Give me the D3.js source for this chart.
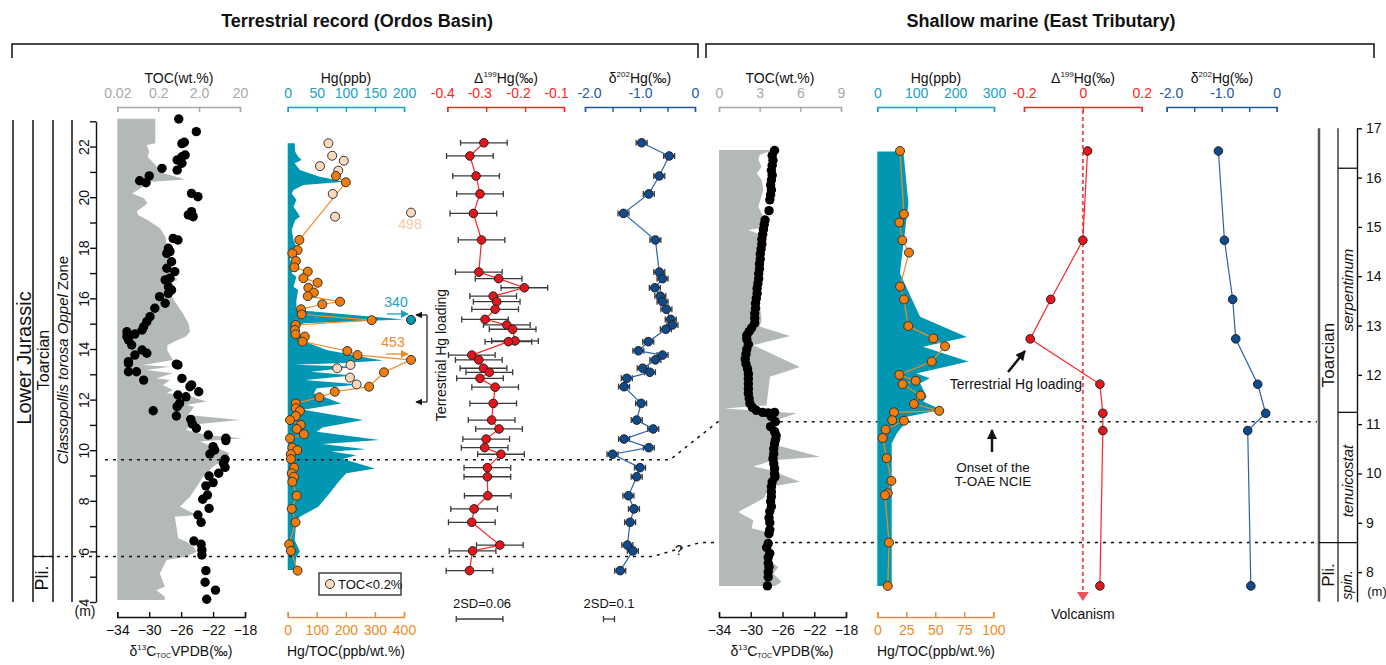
<!DOCTYPE html>
<html>
<head>
<meta charset="utf-8">
<script src="https://cdn.jsdelivr.net/npm/d3@7"></script>
<style>
  body { margin: 0; background: #fff; }
</style>
</head>
<body>
<svg width="1386" height="665" viewBox="0 0 1386 665"></svg>
<script>
// ---------- data: [depth (m), value] ----------
// Terrestrial (Ordos Basin)
const tocTerr = [[23.1,0.17],[22.13,0.17],[22.06,0.105],[21.8,0.12],[21.6,0.11],[21.2,0.19],[21.0,0.22],[20.7,0.9],[20.6,0.12],[20.4,0.085],[20.15,0.046],[19.96,0.09],[19.76,0.11],[19.43,0.06],[19.3,0.065],[19.1,0.11],[18.77,0.22],[18.44,0.3],[18.04,0.33],[17.52,0.36],[16.9,0.45],[16.73,0.6],[16.66,0.45],[16.2,0.39],[15.8,0.55],[15.41,0.8],[15.02,1.1],[14.68,1.2],[14.49,0.95],[14.36,0.6],[14.16,0.34],[13.96,0.33],[13.57,0.46],[13.37,0.086],[13.3,0.39],[13.17,0.1],[13.04,0.46],[12.84,0.18],[12.77,0.39],[12.58,0.26],[12.38,0.46],[12.25,0.32],[12.18,0.98],[11.92,3.0],[11.79,0.98],[11.72,1.5],[11.39,1.08],[11.19,19.6],[11.0,1.18],[10.8,0.98],[10.6,3.0],[10.47,21.6],[10.34,2.1],[9.88,11.2],[9.61,7.7],[9.35,4.4],[8.95,2.5],[8.56,1.74],[8.16,1.2],[7.77,0.68],[7.44,1.74],[7.37,0.51],[6.52,0.62],[6.38,0.98],[6.19,1.42],[5.99,1.74],[5.79,0.98],[5.66,0.32],[5.13,0.22],[4.6,0.29],[4.47,0.18],[4.21,0.29],[4.08,0.29]];

const d13cTerr = [[23.09,-26.3],[22.59,-24.1],[22.17,-25.6],[22.12,-25.9],[21.67,-25.5],[21.6,-25.9],[21.47,-26.5],[21.34,-25.9],[21.07,-26.5],[21.14,-28.4],[20.84,-30.0],[20.65,-31.2],[20.57,-30.4],[20.15,-24.7],[20.02,-23.9],[19.43,-24.7],[19.3,-25.1],[19.23,-24.5],[18.37,-27.0],[18.31,-26.4],[17.98,-27.6],[17.85,-27.4],[17.78,-27.8],[17.45,-27.2],[17.19,-27.8],[17.06,-26.8],[16.8,-27.4],[16.73,-28.0],[16.46,-27.6],[16.33,-27.2],[16.2,-27.6],[16.07,-28.7],[15.81,-28.0],[15.61,-29.3],[15.28,-29.9],[15.08,-30.3],[14.88,-30.7],[14.75,-30.9],[14.59,-31.8],[14.68,-32.8],[14.49,-32.8],[14.36,-32.6],[14.16,-32.2],[13.96,-30.9],[13.83,-30.3],[13.76,-31.8],[13.5,-32.6],[13.43,-32.6],[13.4,-26.6],[13.37,-26.4],[13.1,-32.6],[13.1,-31.6],[12.77,-30.7],[12.84,-25.9],[12.58,-24.7],[12.51,-24.9],[12.31,-23.8],[12.18,-26.4],[12.11,-25.4],[11.85,-26.2],[11.72,-26.5],[11.56,-29.5],[11.35,-26.6],[11.22,-24.8],[11.04,-24.6],[10.87,-24.1],[10.6,-22.6],[10.47,-20.4],[10.38,-20.4],[10.14,-22.0],[10.01,-21.8],[9.85,-22.4],[9.64,-20.5],[9.48,-20.7],[9.32,-20.5],[9.09,-21.3],[8.98,-22.5],[8.72,-22.0],[8.59,-22.9],[8.23,-22.7],[8.06,-23.3],[7.7,-22.5],[7.44,-23.9],[7.15,-23.5],[6.41,-24.4],[6.28,-23.5],[6.06,-23.4],[5.86,-23.4],[5.24,-22.9],[4.78,-23.0],[4.47,-21.7],[4.11,-22.8]];

const hgTerr = [[22.13,12],[21.8,13],[21.6,18],[21.47,24],[21.34,12],[21.08,21],[20.81,55],[20.61,98],[20.48,27],[20.28,10],[20.15,7],[19.89,15],[19.62,10],[19.36,18],[19.23,21],[19.1,13],[18.7,7],[18.31,10],[18.04,15],[17.91,7],[17.52,4],[17.25,10],[16.99,7],[16.86,15],[16.46,10],[16.33,18],[15.94,15],[15.54,15],[15.17,340],[15.02,27],[14.75,15],[14.49,21],[14.22,38],[13.96,67],[13.63,141],[13.55,164],[13.45,95],[13.38,12],[13.3,118],[13.1,40],[12.95,112],[12.77,30],[12.6,124],[12.45,50],[12.25,45],[11.85,92],[11.6,27],[11.19,130],[10.9,60],[10.73,50],[10.4,158],[10.25,60],[10.04,135],[9.95,75],[9.8,118],[9.65,95],[9.28,150],[9.09,101],[8.82,90],[8.3,72],[7.77,53],[7.37,21],[7.24,15],[6.45,12],[5.99,21],[5.79,15],[5.26,12]];

const hgTocTerr = [[20.84,166],[20.59,200],[18.31,40],[17.91,34],[17.78,16],[17.48,28],[17.23,23],[17.06,69],[16.8,54],[16.62,103],[16.42,71],[16.23,90],[16.09,69],[15.87,180],[15.77,119],[15.57,46],[15.37,48],[15.14,289],[14.95,27],[14.75,25],[14.58,27],[14.49,59],[14.29,51],[13.92,205],[13.76,240],[13.57,453],[13.08,331],[12.51,280],[12.31,162],[12.09,109],[11.85,28],[11.66,28],[11.55,42],[11.35,28],[11.19,8],[11.0,45],[10.84,31],[10.63,56],[10.47,8],[10.1,16],[10.0,33],[9.84,11],[9.65,11],[9.31,22],[9.09,14],[8.95,22],[8.75,16],[8.2,31],[7.68,14],[7.15,27],[6.28,5],[6.02,11],[5.24,34]];

const hgTocLowToc = [[22.13,140],[21.64,153],[21.44,193],[21.23,111],[21.05,174],[20.13,155],[19.39,498],[19.23,163],[13.37,216],[13.24,170],[12.87,214],[12.6,237]];

const hgPeakTerr = [[15.15,340]];

const d199Terr = [[22.15,-0.306],[21.63,-0.342],[20.84,-0.326],[20.13,-0.316],[19.36,-0.333],[18.31,-0.312],[17.04,-0.319],[16.78,-0.268],[16.42,-0.202],[16.09,-0.282],[15.87,-0.273],[15.57,-0.277],[15.17,-0.303],[14.95,-0.247],[14.78,-0.232],[14.32,-0.226],[14.29,-0.243],[13.76,-0.337],[13.57,-0.319],[13.24,-0.307],[13.08,-0.292],[12.84,-0.316],[12.49,-0.277],[11.85,-0.282],[11.19,-0.286],[10.84,-0.267],[10.44,-0.300],[10.1,-0.304],[9.84,-0.262],[9.31,-0.297],[8.95,-0.297],[8.2,-0.296],[7.68,-0.331],[7.15,-0.337],[6.25,-0.265],[6.02,-0.335],[5.24,-0.343]];

const d202Terr = [[22.15,-0.97],[21.63,-0.47],[20.84,-0.65],[20.13,-0.84],[19.36,-1.30],[18.31,-0.72],[17.04,-0.65],[16.78,-0.59],[16.42,-0.73],[16.09,-0.63],[15.87,-0.59],[15.57,-0.52],[15.17,-0.44],[14.95,-0.41],[14.78,-0.53],[14.29,-0.85],[13.93,-1.03],[13.76,-0.59],[13.57,-0.72],[13.24,-0.95],[13.08,-0.82],[12.84,-1.24],[12.51,-1.29],[11.85,-0.98],[11.19,-1.06],[10.84,-0.76],[10.44,-1.29],[10.1,-0.84],[9.84,-1.50],[9.31,-1.0],[8.95,-1.06],[8.2,-1.21],[7.68,-1.11],[7.15,-1.18],[6.25,-1.23],[6.02,-1.13],[5.24,-1.36]];

// Shallow marine (East Tributary)
const tocMar = [[16.56,4.0],[16.46,3.0],[16.36,2.9],[16.22,3.15],[16.09,2.78],[15.95,3.15],[15.75,3.27],[15.41,2.9],[15.0,3.64],[14.94,2.16],[14.8,3.52],[14.33,3.02],[13.65,2.9],[13.11,3.15],[12.98,3.0],[12.79,5.24],[12.6,2.53],[12.16,5.97],[11.96,3.76],[11.69,3.64],[11.38,3.5],[11.32,0.4],[11.27,3.0],[11.22,5.73],[11.05,3.88],[10.68,4.62],[10.61,3.76],[10.34,7.45],[10.27,4.0],[10.14,2.53],[10.07,3.76],[9.83,5.97],[9.73,3.76],[9.5,3.3],[9.22,1.42],[9.05,2.53],[8.89,2.41],[8.78,4.0],[8.51,3.52],[8.24,3.76],[8.1,4.37],[7.97,4.0],[7.8,4.62],[7.72,4.13]];

const d13cMar = [[16.55,-27.0],[16.45,-27.3],[16.35,-27.2],[16.25,-27.3],[16.15,-27.4],[16.05,-27.3],[15.95,-27.4],[15.85,-27.5],[15.75,-27.4],[15.65,-27.5],[15.55,-27.6],[15.33,-27.7],[15.14,-28.2],[15.05,-28.3],[14.95,-28.4],[14.85,-28.5],[14.75,-28.6],[14.65,-28.6],[14.55,-28.7],[14.45,-28.8],[14.35,-28.8],[14.25,-28.9],[14.15,-28.9],[14.05,-29.0],[13.95,-29.0],[13.85,-29.1],[13.75,-29.2],[13.65,-29.2],[13.55,-29.3],[13.45,-29.4],[13.35,-29.4],[13.25,-29.5],[13.15,-29.5],[13.05,-29.5],[12.95,-29.9],[12.88,-30.2],[12.8,-30.5],[12.72,-30.5],[12.62,-30.3],[12.52,-30.5],[12.42,-30.6],[12.32,-30.7],[12.22,-30.6],[12.12,-30.4],[12.02,-30.3],[11.92,-30.3],[11.82,-30.3],[11.72,-30.3],[11.62,-30.3],[11.52,-30.2],[11.42,-30.1],[11.34,-29.8],[11.28,-29.3],[11.24,-28.5],[11.23,-27.8],[11.24,-27.0],[11.15,-27.4],[11.05,-26.9],[10.95,-27.5],[10.85,-27.0],[10.77,-26.8],[10.68,-26.9],[10.6,-27.0],[10.5,-27.1],[10.4,-27.1],[10.3,-27.2],[10.2,-27.1],[10.1,-27.0],[10.0,-27.0],[9.93,-26.95],[9.83,-27.3],[9.73,-27.4],[9.63,-27.4],[9.53,-27.4],[9.43,-27.5],[9.33,-27.4],[9.23,-27.6],[9.1,-27.7],[9.0,-27.6],[8.86,-27.6],[8.78,-27.7],[8.58,-27.8],[8.5,-28.0],[8.38,-27.6],[8.3,-27.8],[8.18,-27.8],[8.1,-27.7],[8.0,-27.8],[7.9,-27.8],[7.72,-27.9]];

const hgMar = [[16.53,67],[15.48,80],[14.06,58],[13.18,110],[12.77,230],[12.57,118],[12.27,234],[12.03,101],[11.93,135],[11.83,110],[11.56,127],[11.46,118],[11.29,165],[11.15,76],[10.98,67],[10.81,50],[10.61,37],[7.72,37]];

const hgTocMar = [[16.54,19.6],[15.26,23],[15.09,19],[14.73,21.6],[14.48,27.3],[13.79,19.6],[13.53,23],[12.99,26.7],[12.74,48.3],[12.58,58.4],[12.27,46.9],[12.0,19],[11.88,33.1],[11.81,21.9],[11.58,37.4],[11.41,31.6],[11.27,53.4],[11.24,14.4],[11.08,12.9],[11.07,23],[10.89,7.2],[10.72,4.6],[10.31,8.1],[9.85,12.1],[9.6,9.0],[9.56,6.6],[8.6,10.1],[7.72,9]];

const d199Mar = [[16.54,0.016],[14.73,0.0],[13.53,-0.109],[12.73,-0.179],[11.81,0.058],[11.22,0.068],[10.87,0.068],[7.72,0.058]];
const d202Mar = [[16.54,-1.06],[14.73,-0.95],[13.53,-0.80],[12.73,-0.745],[11.81,-0.345],[11.22,-0.20],[10.87,-0.527],[7.72,-0.47]];

// tick values / labels
const tocTerrTicks = [0.02, 0.2, 2, 20], tocTerrLabels = ["0.02", "0.2", "2.0", "20"];
const d13cTicks = [-34, -30, -26, -22, -18];
const hgTerrTicks = [0, 50, 100, 150, 200];
const hgTocTerrTicks = [0, 100, 200, 300, 400];
const d199TerrTicks = [-0.4, -0.3, -0.2, -0.1], d199TerrLabels = ["-0.4", "-0.3", "-0.2", "-0.1"];
const d202Ticks = [-2, -1.5, -1, -0.5, 0], d202Labels = ["-2.0", "", "-1.0", "", "0"];
const tocMarTicks = [0, 3, 6, 9];
const hgMarTicks = [0, 100, 200, 300];
const hgTocMarTicks = [0, 25, 50, 75, 100];
const d199MarTicks = [-0.2, 0, 0.2], d199MarLabels = ["-0.2", "0", "0.2"];
const depthTerrTicks = d3.range(4, 24);
const depthMarTicks = d3.range(8, 18);

// ---------- setup ----------
const FONT = "Liberation Sans, Arial, sans-serif";
const svg = d3.select("svg").attr("font-family", FONT);

const C = {
    gray: "#b3b9b9", grayAxis: "#a8a8a8", teal: "#0197b2", tealAxis: "#1ba0c2",
    orange: "#f08a24", orangeDot: "#f07c0c", peach: "#fcd8bc", red: "#ff2424",
    redDot: "#e5161b", blue: "#1c57a0", blueDot: "#0f4a8c"
};

// depth scales
const yT = d3.scaleLinear().domain([4, 23]).range([602, 121.3]);
const yM = d3.scaleLinear().domain([7.4, 17]).range([601.7, 128.3]);

// value scales
const xTocT = d3.scaleLog().domain([0.02, 20]).range([117.3, 240]);
const xD13T = d3.scaleLinear().domain([-34, -18]).range([117.3, 245]);
const xHgT = d3.scaleLinear().domain([0, 200]).range([287.7, 404]).clamp(true);
const xHgTocT = d3.scaleLinear().domain([0, 400]).range([287.7, 404]);
const xD199T = d3.scaleLinear().domain([-0.4, -0.1]).range([447.3, 564]);
const xD202T = d3.scaleLinear().domain([-2, 0]).range([585, 695]);
const xTocM = d3.scaleLinear().domain([0, 9]).range([719, 841]);
const xD13M = d3.scaleLinear().domain([-34, -18]).range([719, 846]);
const xHgM = d3.scaleLinear().domain([0, 300]).range([877.3, 994]);
const xHgTocM = d3.scaleLinear().domain([0, 100]).range([877.3, 993.3]);
const xD199M = d3.scaleLinear().domain([-0.2, 0.2]).range([1024, 1141.7]);
const xD202M = d3.scaleLinear().domain([-2, 0]).range([1166.7, 1276.7]);

// off-scale values sit just past the axis end
const pos = (x, v) => v > x.domain()[1] ? x.range()[1] + 7 : x(v);

// ---------- helpers ----------
function topAxis(x, ticks, labels, color, dx) {
    const g = svg.append("g").attr("transform", "translate(0,107)")
        .call(d3.axisTop(x).tickValues(ticks).tickFormat((d, i) => labels ? labels[i] : d)
            .tickSizeInner(-5).tickSizeOuter(-5).tickPadding(9));
    g.attr("font-family", FONT).attr("font-size", 14);
    g.selectAll("path, line").attr("stroke", color).attr("stroke-width", 1.4);
    g.selectAll("text").attr("fill", color);
    if (dx) g.selectAll("text").attr("dx", (d, i) => dx[i]);
}

function bottomAxis(x, ticks, color) {
    const g = svg.append("g").attr("transform", "translate(0,617)")
        .call(d3.axisBottom(x).tickValues(ticks).tickSizeInner(-5).tickSizeOuter(-5).tickPadding(8));
    g.attr("font-family", FONT).attr("font-size", 14);
    g.selectAll("path, line").attr("stroke", color).attr("stroke-width", 1.4);
    g.selectAll("text").attr("fill", color);
}

function areaFill(data, x, y, base, fill) {
    svg.append("path").datum(data)
        .attr("d", d3.area().y(d => y(d[0])).x0(x(base)).x1(d => x(d[1])))
        .attr("fill", fill);
}

function lineOf(data, x, y, color, w = 1.2) {
    svg.append("path").datum(data)
        .attr("d", d3.line().x(d => pos(x, d[1])).y(d => y(d[0])))
        .attr("fill", "none").attr("stroke", color).attr("stroke-width", w);
}

function dotsOf(data, x, y, r, fill, stroke) {
    svg.append("g").selectAll("circle").data(data).join("circle")
        .attr("cx", d => pos(x, d[1])).attr("cy", d => y(d[0])).attr("r", r)
        .attr("fill", fill).attr("stroke", stroke || "none").attr("stroke-width", 1);
}

function errBars(data, x, y, e, color) {
    const g = svg.append("g").attr("stroke", color).attr("stroke-width", 1.3);
    data.forEach(d => {
        const x1 = x(d[1] - e), x2 = x(d[1] + e), yy = y(d[0]);
        g.append("line").attr("x1", x1).attr("x2", x2).attr("y1", yy).attr("y2", yy);
        g.append("line").attr("x1", x1).attr("x2", x1).attr("y1", yy - 3).attr("y2", yy + 3);
        g.append("line").attr("x1", x2).attr("x2", x2).attr("y1", yy - 3).attr("y2", yy + 3);
    });
}

function label(x, y, txt, opts = {}) {
    return svg.append("text").attr("x", x).attr("y", y).text(txt)
        .attr("text-anchor", opts.anchor || "middle")
        .attr("font-size", opts.size || 14)
        .attr("fill", opts.fill || "#111")
        .attr("font-weight", opts.weight || null)
        .attr("font-style", opts.style || null);
}

function vlabel(x, y, size) {
    return svg.append("text").attr("transform", `translate(${x},${y}) rotate(-90)`)
        .attr("text-anchor", "middle").attr("dy", "0.35em").attr("font-size", size).attr("fill", "#111");
}

function isoTitle(x, y, pre, sup, post) {
    const t = svg.append("text").attr("x", x).attr("y", y).attr("text-anchor", "middle").attr("font-size", 14).attr("fill", "#111");
    t.append("tspan").text(pre);
    t.append("tspan").text(sup).attr("font-size", 8).attr("dy", -6);
    t.append("tspan").text(post).attr("dy", 6);
}

function d13cTitle(x) {
    const t = svg.append("text").attr("x", x).attr("y", 656).attr("text-anchor", "middle").attr("font-size", 14).attr("fill", "#111");
    t.append("tspan").text("δ");
    t.append("tspan").text("13").attr("font-size", 8).attr("dy", -6);
    t.append("tspan").text("C").attr("dy", 6);
    t.append("tspan").text("TOC").attr("font-size", 7).attr("dy", 2);
    t.append("tspan").text("VPDB(‰)").attr("dy", -2);
}

// ---------- headers ----------
const HEAD = "Liberation Sans Narrow, Liberation Sans, Arial, sans-serif";
label(357, 27, "Terrestrial record (Ordos Basin)", { size: 18, weight: "bold" }).attr("font-family", HEAD);
label(1041, 27, "Shallow marine (East Tributary)", { size: 18, weight: "bold" }).attr("font-family", HEAD);
[[12, 698], [706, 1374]].forEach(([a, b]) => {
    svg.append("path").attr("d", `M${a},58V44H${b}V58`).attr("fill", "none").attr("stroke", "#111").attr("stroke-width", 1.5);
});

// ---------- terrestrial stratigraphy column ----------
[13, 33, 53, 72].forEach(x => {
    svg.append("line").attr("x1", x).attr("x2", x).attr("y1", 120).attr("y2", 602).attr("stroke", "#111").attr("stroke-width", 1.5);
});
svg.append("line").attr("x1", 33).attr("x2", 53).attr("y1", yT(5.8)).attr("y2", yT(5.8)).attr("stroke", "#111").attr("stroke-width", 1.2);
vlabel(23.5, 358, 20).text("Lower Jurassic");
vlabel(43, 360, 16).text("Toarcian");
vlabel(42, 578, 18).text("Pli.");
const cz = vlabel(62.5, 360, 15);
cz.append("tspan").text("Classopollis torosa Oppel").attr("font-style", "italic");
cz.append("tspan").text(" Zone");

// terrestrial depth axis
const ayT = svg.append("g").attr("transform", "translate(96,0)")
    .call(d3.axisLeft(yT).tickValues(depthTerrTicks).tickFormat(d => d % 2 === 0 ? d : "").tickSize(6).tickSizeOuter(0));
ayT.attr("font-family", FONT).attr("font-size", 14);
ayT.selectAll("path, line").attr("stroke", "#111").attr("stroke-width", 1.4);
ayT.selectAll("text").attr("transform", "rotate(-90)").attr("x", 0).attr("y", -7).attr("dy", 0)
    .attr("text-anchor", "middle").attr("fill", "#111");
label(85, 616, "(m)");

// ---------- terrestrial panels ----------
areaFill(tocTerr, xTocT, yT, 0.02, C.gray);
areaFill(hgTerr, xHgT, yT, 0, C.teal);

// correlation lines
const dotted = { stroke: "#111", "stroke-width": 1.5, "stroke-dasharray": "3,5", fill: "none" };
function dottedPath(d) {
    const p = svg.append("path").attr("d", d);
    Object.entries(dotted).forEach(([k, v]) => p.attr(k, v));
}
dottedPath(`M105,${yT(9.62)}H670L718,${yM(11.05)}H1317`);
dottedPath(`M33,${yT(5.8)}H653L700,${yM(8.6)}H1317`);
label(679, 555, "?", { size: 14 });

dotsOf(d13cTerr, xD13T, yT, 4.7, "#000");

lineOf(hgTocTerr, xHgTocT, yT, C.orange);
dotsOf(hgTocLowToc, xHgTocT, yT, 4.5, C.peach, "#333");
dotsOf(hgTocTerr, xHgTocT, yT, 4.5, C.orangeDot, "#333");
dotsOf(hgPeakTerr, xHgT, yT, 4.5, C.teal, "#222");

// off-scale annotations
svg.append("defs").html(`
  <marker id="ah" viewBox="0 0 10 10" refX="9" refY="5" markerWidth="6" markerHeight="6" orient="auto-start-reverse"><path d="M0,0L10,5L0,10z" fill="context-stroke"/></marker>
  <marker id="ahb" viewBox="0 0 10 10" refX="9" refY="5" markerWidth="4" markerHeight="4" orient="auto"><path d="M0,0L10,5L0,10z" fill="#111"/></marker>`);
label(396, 307, "340", { size: 14, fill: C.tealAxis });
svg.append("line").attr("x1", 387).attr("x2", 408).attr("y1", 314).attr("y2", 314).attr("stroke", C.tealAxis).attr("stroke-width", 1.3).attr("marker-end", "url(#ah)");
label(393, 347, "453", { size: 14, fill: C.orange });
svg.append("line").attr("x1", 386).attr("x2", 408).attr("y1", 354).attr("y2", 354).attr("stroke", C.orange).attr("stroke-width", 1.3).attr("marker-end", "url(#ah)");
label(410, 229, "498", { size: 14, fill: "#f6c9a6" });

// legend
svg.append("rect").attr("x", 319).attr("y", 573).attr("width", 82).attr("height", 22).attr("fill", "#fff").attr("stroke", "#111").attr("stroke-width", 1.2);
svg.append("circle").attr("cx", 330).attr("cy", 584).attr("r", 4.5).attr("fill", C.peach).attr("stroke", "#333");
label(338, 589, "TOC<0.2%", { anchor: "start", size: 13 });

// terrestrial Hg loading bracket
svg.append("path").attr("d", "M427,315V402").attr("stroke", "#111").attr("stroke-width", 1.2).attr("fill", "none");
[315, 402].forEach(yy => {
    svg.append("line").attr("x1", 427).attr("x2", 416).attr("y1", yy).attr("y2", yy).attr("stroke", "#111").attr("stroke-width", 1.2).attr("marker-end", "url(#ah)");
});
vlabel(441, 355, 14).text("Terrestrial Hg loading");

// isotopes
errBars(d199Terr, xD199T, yT, 0.06, "#3a3a3a");
lineOf(d199Terr, xD199T, yT, C.red);
dotsOf(d199Terr, xD199T, yT, 4.3, C.redDot, "#222");
errBars(d202Terr, xD202T, yT, 0.1, "#3a3a3a");
lineOf(d202Terr, xD202T, yT, "#2a62a8");
dotsOf(d202Terr, xD202T, yT, 4.3, C.blueDot, "#222");

label(482, 608, "2SD=0.06", { size: 13 });
errBars([[0, -0.317]], xD199T, () => 619, 0.06, "#3a3a3a");
label(609, 608, "2SD=0.1", { size: 13 });
errBars([[0, -1.564]], xD202T, () => 619, 0.1, "#3a3a3a");

// terrestrial axes + titles
topAxis(xTocT, tocTerrTicks, tocTerrLabels, C.grayAxis);
label(179, 83, "TOC(wt.%)");
bottomAxis(xD13T, d13cTicks, "#111");
d13cTitle(181);
topAxis(xHgT, hgTerrTicks, null, C.tealAxis);
label(346, 83, "Hg(ppb)");
bottomAxis(xHgTocT, hgTocTerrTicks, C.orange);
label(346, 656, "Hg/TOC(ppb/wt.%)");
topAxis(xD199T, d199TerrTicks, d199TerrLabels, C.red, [-5, -7, -7, -8]);
isoTitle(506, 83, "Δ", "199", "Hg(‰)");
topAxis(xD202T, d202Ticks, d202Labels, C.blue, [4, 0, 0, 0, 0]);
isoTitle(640, 83, "δ", "202", "Hg(‰)");

// ---------- marine panels ----------
areaFill(tocMar, xTocM, yM, 0, C.gray);
areaFill(hgMar, xHgM, yM, 0, C.teal);
dotsOf(d13cMar, xD13M, yM, 4.7, "#000");
lineOf(hgTocMar, xHgTocM, yM, C.orange);
dotsOf(hgTocMar, xHgTocM, yM, 4.5, C.orangeDot, "#333");

// volcanism reference line
svg.append("line").attr("x1", xD199M(0)).attr("x2", xD199M(0)).attr("y1", 110).attr("y2", 592)
    .attr("stroke", "#f0505e").attr("stroke-width", 2).attr("stroke-dasharray", "4,3");
svg.append("path").attr("d", `M${xD199M(0) - 6},592H${xD199M(0) + 6}L${xD199M(0)},601Z`).attr("fill", "#f0505e");
label(xD199M(0), 619, "Volcanism");

lineOf(d199Mar, xD199M, yM, C.red);
dotsOf(d199Mar, xD199M, yM, 4.3, C.redDot, "#222");
lineOf(d202Mar, xD202M, yM, "#2a62a8");
dotsOf(d202Mar, xD202M, yM, 4.3, C.blueDot, "#222");

label(1082, 389, "Terrestrial Hg loading", { anchor: "end" });
svg.append("line").attr("x1", 1008).attr("y1", 372).attr("x2", 1025).attr("y2", 351)
    .attr("stroke", "#111").attr("stroke-width", 2.5).attr("marker-end", "url(#ahb)");
svg.append("line").attr("x1", 992).attr("y1", 452).attr("x2", 992).attr("y2", 430)
    .attr("stroke", "#111").attr("stroke-width", 2.5).attr("marker-end", "url(#ahb)");
label(993, 472, "Onset of the", { size: 13.5 });
label(993, 486, "T-OAE NCIE", { size: 13.5 });

topAxis(xTocM, tocMarTicks, null, C.grayAxis);
label(780, 83, "TOC(wt.%)");
bottomAxis(xD13M, d13cTicks, "#111");
d13cTitle(782);
topAxis(xHgM, hgMarTicks, null, C.tealAxis);
label(936, 83, "Hg(ppb)");
bottomAxis(xHgTocM, hgTocMarTicks, C.orange);
label(936, 656, "Hg/TOC(ppb/wt.%)");
topAxis(xD199M, d199MarTicks, d199MarLabels, C.red);
isoTitle(1083, 83, "Δ", "199", "Hg(‰)");
topAxis(xD202M, d202Ticks, d202Labels, C.blue, [4, 0, 0, 0, 0]);
isoTitle(1222, 83, "δ", "202", "Hg(‰)");

// ---------- marine stratigraphy column ----------
svg.append("line").attr("x1", 1319).attr("x2", 1319).attr("y1", 128.3).attr("y2", 601.7).attr("stroke", "#555").attr("stroke-width", 2.5);
svg.append("line").attr("x1", 1338).attr("x2", 1338).attr("y1", 128.3).attr("y2", 601.7).attr("stroke", "#111").attr("stroke-width", 1.2);
[[1338, 16.19], [1338, 11.24], [1319, 8.6]].forEach(([x0, d]) => {
    svg.append("line").attr("x1", x0).attr("x2", 1357).attr("y1", yM(d)).attr("y2", yM(d)).attr("stroke", "#111").attr("stroke-width", 1.3);
});
vlabel(1328, 355, 17).text("Toarcian");
vlabel(1328, 575, 17).text("Pli.");
vlabel(1347.5, 290, 15).text("serpentinum").attr("font-style", "italic");
vlabel(1347.5, 481, 15).text("tenuicostat").attr("font-style", "italic");
vlabel(1347.5, 585, 14).text("spin.").attr("font-style", "italic");

const ayM = svg.append("g").attr("transform", "translate(1357,0)")
    .call(d3.axisRight(yM).tickValues(depthMarTicks).tickSize(5).tickSizeOuter(0).tickPadding(4));
ayM.attr("font-family", FONT).attr("font-size", 14);
ayM.selectAll("path, line").attr("stroke", "#111").attr("stroke-width", 1.4);
ayM.selectAll("text").attr("fill", "#111");
label(1377, 596, "(m)", { size: 13 });
</script>
</body>
</html>
